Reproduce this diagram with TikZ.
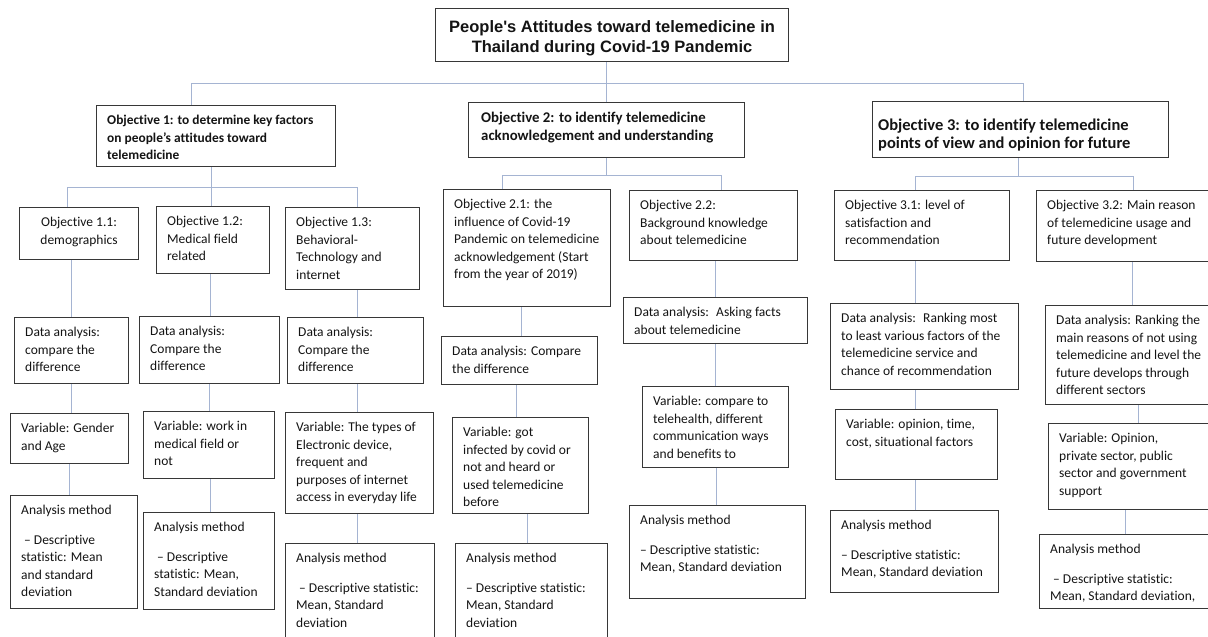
\documentclass[tikz,border=0pt]{standalone}
\usepackage{fontspec}
\setmainfont{Carlito}[Ligatures={TeX,NoCommon}]
\newfontfamily\arialfont{Liberation Sans}
\usepackage{tikz}

\definecolor{boxgray}{RGB}{55,55,55}
\definecolor{linkblue}{RGB}{165,180,210}
\definecolor{txtgray}{RGB}{20,20,20}

\tikzset{
  box/.style={draw=boxgray, line width=1.1pt, inner sep=0pt, anchor=north west},
  txt/.style={font=\fontsize{13.5}{17.6}\selectfont, text=txtgray, align=left, inner sep=0pt, anchor=north west},
  objtxt/.style={txt, font=\fontsize{13.4}{17.4}\selectfont\bfseries},
  titletxt/.style={font=\arialfont\bfseries\fontsize{16.5}{20}\selectfont, text=txtgray, align=center, inner sep=0pt, anchor=north},
  link/.style={draw=linkblue, line width=1pt},
}

% box from (x1,y1) to (x2,y2) in pixels, text at its top left
\newcommand{\tbox}[7][txt]{%
  \node[box, minimum width={#5pt-#3pt}, minimum height={#6pt-#4pt}] (#2) at (#3,#4) {};
  \node[txt, #1] (#2t) at ([xshift=11pt,yshift=-10pt]#2.north west) {#7};
}

\begin{document}
\begin{tikzpicture}[x=1pt, y=-1pt]
\useasboundingbox (0,0) rectangle (1208,637);
\fill[white] (0,0) rectangle (1208,637);
\clip (0,0) rectangle (1208,637);

% title
\node[box, minimum width=353pt, minimum height=53pt] (title) at (435,8) {};
\node[titletxt] (titlet) at ([yshift=-12pt]title.north) {People's Attitudes toward telemedicine in\\Thailand during Covid-19 Pandemic};

% objectives
\tbox[objtxt]{obj1}{96}{105}{335}{166}{Objective 1: to determine key factors\\on people’s attitudes toward\\telemedicine}
\tbox[objtxt, font=\fontsize{14.8}{18.3}\selectfont\bfseries, xshift=2pt]{obj2}{468}{102}{744}{157}{Objective 2: to identify telemedicine\\acknowledgement and understanding}
\tbox[objtxt, font=\fontsize{16.5}{17.3}\selectfont\bfseries, xshift=-5pt, yshift=-8pt]{obj3}{872}{101}{1168}{157}{Objective 3: to identify telemedicine\\points of view and opinion for future}

% sub objectives
\node[box, minimum width=119pt, minimum height=52pt] (o11) at (19,207) {};
\node[txt, align=center, anchor=north] (o11t) at ([yshift=-10pt]o11.north) {Objective 1.1:\\demographics};
\tbox{o12}{156}{206}{269}{273}{Objective 1.2:\\Medical field\\related}
\tbox{o13}{285}{207}{419}{289}{Objective 1.3:\\Behavioral-\\Technology and\\internet}
\tbox{o21}{443}{189}{610}{306}{Objective 2.1: the\\influence of Covid-19\\Pandemic on telemedicine\\acknowledgement (Start\\from the year of 2019)}
\tbox{o22}{629}{190}{797}{260}{Objective 2.2:\\Background knowledge\\about telemedicine}
\tbox{o31}{834}{190}{1009}{260}{Objective 3.1: level of\\satisfaction and\\recommendation}
\tbox{o32}{1036}{190}{1215}{261}{Objective 3.2: Main reason\\of telemedicine usage and\\future development}

% data analysis
\tbox{d11}{14}{317}{128}{383}{Data analysis:\\compare the\\difference}
\tbox{d12}{139}{316}{279}{383}{Data analysis:\\Compare the\\difference}
\tbox{d13}{287}{317}{423}{383}{Data analysis:\\Compare the\\difference}
\tbox{d21}{441}{336}{597}{384}{Data analysis: Compare\\the difference}
\tbox{d22}{623}{297}{807}{343}{Data analysis:~ Asking facts\\about telemedicine}
\tbox{d31}{830}{303}{1018}{389}{Data analysis:~ Ranking most\\to least various factors of the\\telemedicine service and\\chance of recommendation}
\tbox{d32}{1045}{305}{1215}{404}{Data analysis: Ranking the\\main reasons of not using\\telemedicine and level the\\future develops through\\different sectors}

% variables
\tbox{v11}{10}{413}{128}{463}{Variable: Gender\\and Age}
\tbox{v12}{143}{411}{274}{478}{Variable: work in\\medical field or\\not}
\tbox{v13}{285}{412}{433}{513}{Variable: The types of\\Electronic device,\\frequent and\\purposes of internet\\access in everyday life}
\tbox{v21}{452}{417}{588}{513}{Variable: got\\infected by covid or\\not and heard or\\used telemedicine\\before}
\tbox{v22}{642}{386}{788}{467}{Variable: compare to\\telehealth, different\\communication ways\\and benefits to}
\tbox{v31}{835}{409}{997}{479}{Variable: opinion, time,\\cost, situational factors}
\tbox{v32}{1048}{423}{1215}{509}{Variable: Opinion,\\private sector, public\\sector and government\\support}

% analysis method
\tbox{m11}{10}{495}{137}{608}{Analysis method\\[12pt]\hspace*{3pt}– Descriptive\\statistic: Mean\\and standard\\deviation}
\tbox{m12}{143}{512}{274}{609}{Analysis method\\[12pt]\hspace*{3pt}– Descriptive\\statistic: Mean,\\Standard deviation}
\tbox{m13}{285}{543}{434}{645}{Analysis method\\[12pt]\hspace*{3pt}– Descriptive statistic:\\Mean, Standard\\deviation}
\tbox{m21}{455}{543}{607}{645}{Analysis method\\[12pt]– Descriptive statistic:\\Mean, Standard\\deviation}
\tbox{m22}{629}{505}{805}{598}{Analysis method\\[12pt]– Descriptive statistic:\\Mean, Standard deviation}
\tbox{m31}{830}{510}{998}{592}{Analysis method\\[12pt]– Descriptive statistic:\\Mean, Standard deviation}
\tbox{m32}{1039}{534}{1215}{608}{Analysis method\\[12pt]\hspace*{3pt}– Descriptive statistic:\\Mean, Standard deviation,}

% connectors
\coordinate (j1) at (191,83);
\coordinate (j3) at (1023,83);
\draw[link] (j1 |- obj1.north) -- (j1) -- (j3) -- (j3 |- obj3.north);
\draw[link] (obj2.north) -- (obj2.north |- title.south);

\coordinate (k11) at (67,187);
\coordinate (k13) at (357,187);
\draw[link] (k11 |- o11.north) -- (k11) -- (k13) -- (k13 |- o13.north);
\draw[link] ([xshift=-2pt]o12.north) -- ([xshift=-2pt]o12.north |- obj1.south);

\coordinate (k21) at (502,175);
\coordinate (k22) at (721,175);
\draw[link] (k21 |- o21.north) -- (k21) -- (k22) -- (k22 |- o22.north);
\draw[link] (obj2.south) -- (obj2.south |- k21);

\coordinate (k31) at (915,176);
\coordinate (k32) at (1133,176);
\draw[link] (k31 |- o31.north) -- (k31) -- (k32) -- (k32 |- o32.north);
\draw[link] ([xshift=-2pt]obj3.south) -- ([xshift=-2pt]obj3.south |- k31);

\foreach \a/\b/\s in {o11/d11/0, d11/v11/2, v11/m11/-4.5,
                      o12/d12/1, d12/v12/0, v12/m12/1.5,
                      o13/d13/2, d13/v13/-2, v13/m13/-2.5,
                      o21/d21/2, d21/v21/-4, v21/m21/-4,
                      o22/d22/0, d22/v22/0, v22/m22/-1,
                      o31/d31/-9, d31/v31/-1, v31/m31/1,
                      o32/d32/1.5, d32/v32/6, v32/m32/-2.5}
  \draw[link] ([xshift=\s pt]\b.north) -- ([xshift=\s pt]\b.north |- \a.south);

\end{tikzpicture}
\end{document}
